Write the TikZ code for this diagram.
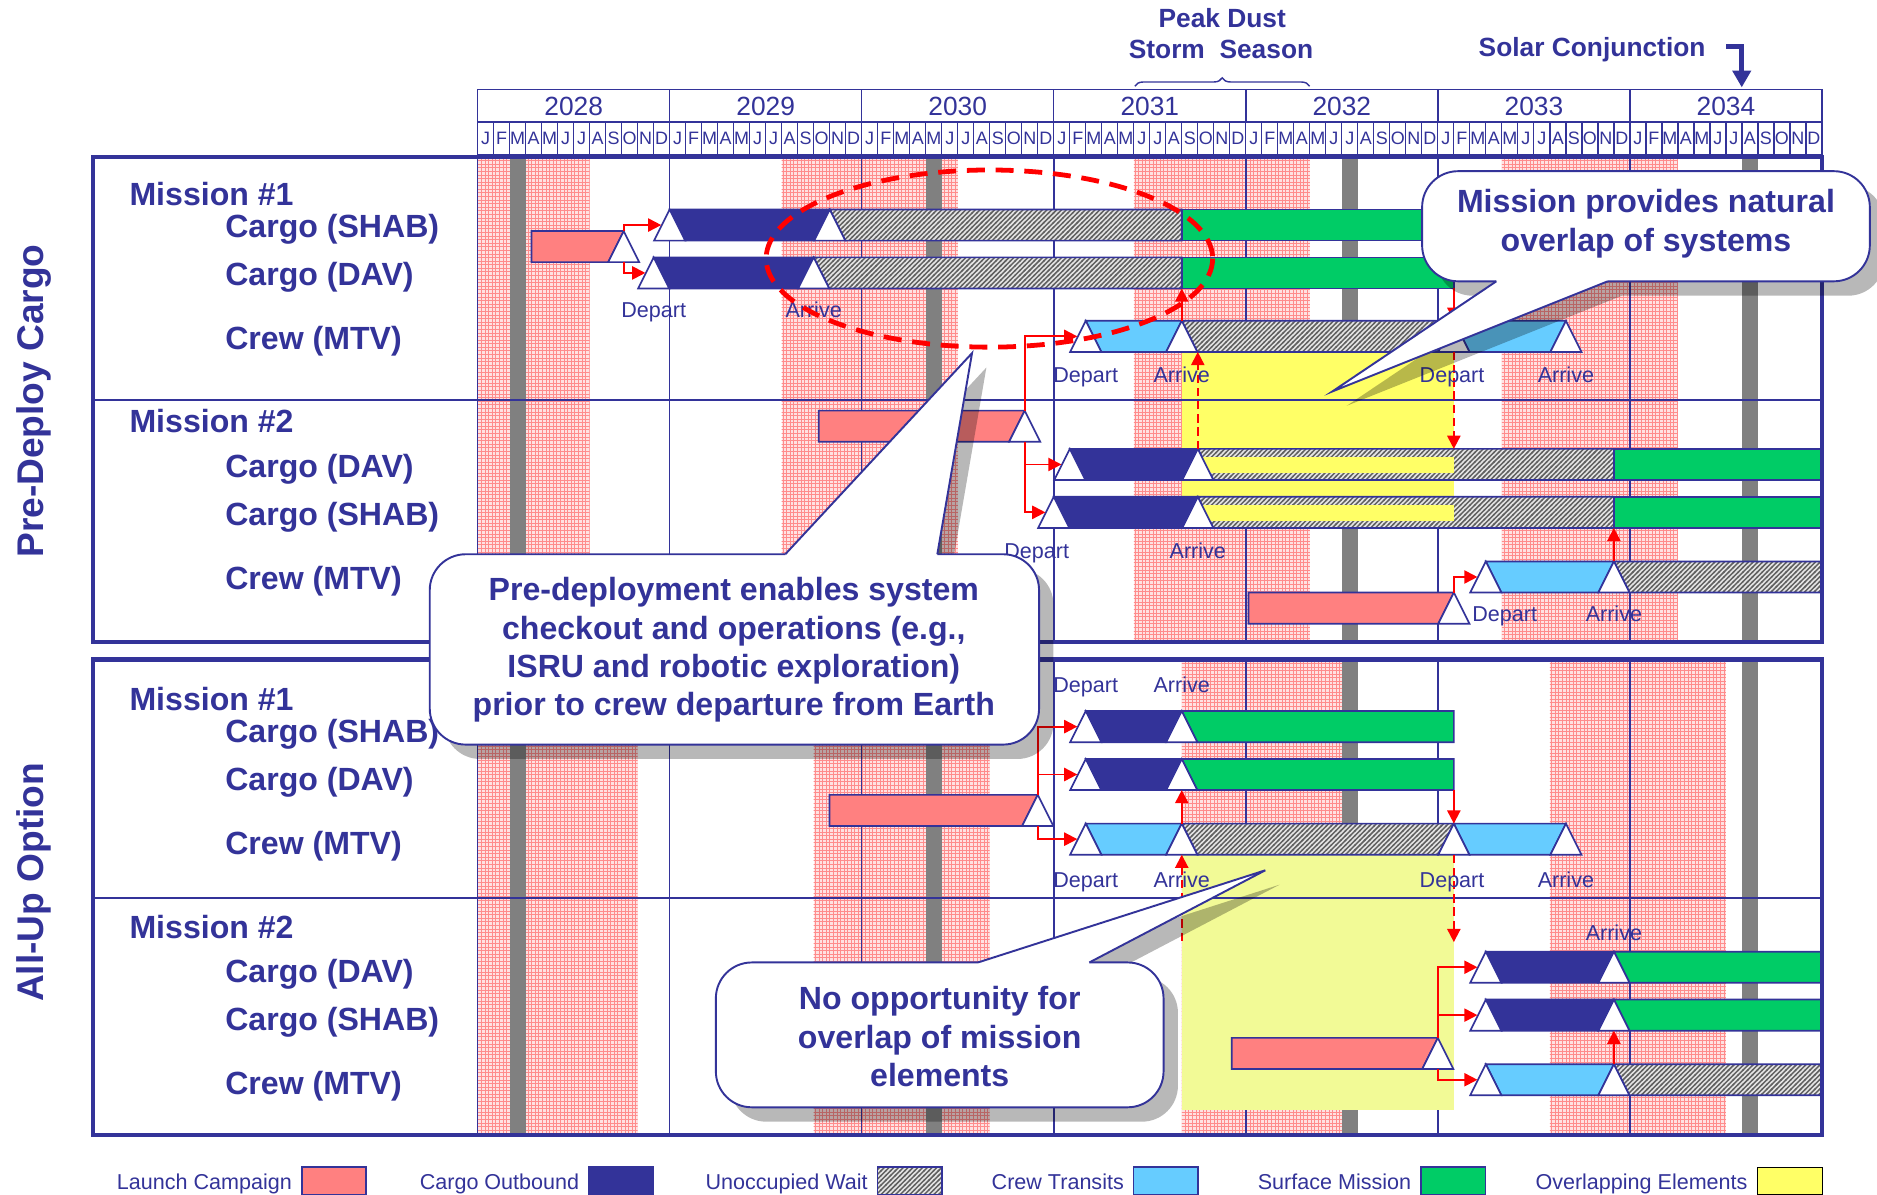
\documentclass[tikz,border=0pt]{standalone}
\usepackage{fontspec}
\setmainfont{Liberation Sans}
\usetikzlibrary{arrows.meta,patterns,decorations.pathreplacing}
\definecolor{planblue}{RGB}{51,51,153}
\definecolor{launchc}{RGB}{255,128,128}
\definecolor{crewc}{RGB}{102,204,255}
\definecolor{surfc}{RGB}{0,204,102}
\definecolor{overlapc}{RGB}{255,255,102}
\definecolor{overlapl}{RGB}{242,250,150}
\definecolor{dustc}{RGB}{255,226,226}
\definecolor{conjc}{RGB}{128,128,128}

% diagonal hatch for the waiting periods
\pgfdeclarepatternformonly{hatch}{\pgfqpoint{-1pt}{-1pt}}{\pgfqpoint{5pt}{5pt}}{\pgfqpoint{4pt}{4pt}}{%
  \pgfsetlinewidth{1.2pt}%
  \pgfpathmoveto{\pgfqpoint{-0.5pt}{-0.5pt}}%
  \pgfpathlineto{\pgfqpoint{4.5pt}{4.5pt}}%
  \pgfusepath{stroke}}

% bar piece: style, x from, x to, top y, left slant, right slant
\newcommand{\barseg}[6]{\filldraw[#1] (#2,#4) -- (#3,#4) -- ({#3-#6},{#4+26}) -- ({#2+#5},{#4+26}) -- cycle;}
% event triangle: name, apex x, top y
\newcommand{\bartri}[3]{%
  \filldraw[tribox] (#2,#3) -- ({#2+13},{#3+26}) -- ({#2-13},{#3+26}) -- cycle;
  \coordinate (#1) at (#2,#3);
  \coordinate (#1b) at (#2,{#3+26});
  \coordinate (#1l) at ({#2-7},{#3+13});}
% callout: box corners, pointer base x's, tip, edge y, inset
\newcommand{\callbox}[9]{%
  \fill[callshadow, shift={(12,12)}, rounded corners=30] (#1,#2) rectangle (#3,#4);
  \fill[callshadow, shift={(12,12)}] (#5,#8) -- #7 -- (#6,#8) -- cycle;
  \filldraw[fill=white, draw=planblue, line width=1.6, rounded corners=30] (#1,#2) rectangle (#3,#4);
  \fill[white] (#5,{#8+#9}) -- (#5,#8) -- #7 -- (#6,#8) -- (#6,{#8+#9}) -- cycle;
  \draw[planblue, line width=1.6] (#5,#8) -- #7 -- (#6,#8);}

\begin{document}
\begin{tikzpicture}[x=1pt, y=-1pt,
    tribox/.style={fill=white, draw=planblue, line width=1.4},
    launchbar/.style={fill=launchc, draw=planblue, line width=1.4},
    cargobar/.style={fill=planblue, draw=planblue, line width=1.4},
    crewbar/.style={fill=crewc, draw=planblue, line width=1.4},
    surfbar/.style={fill=surfc, draw=planblue, line width=1.4},
    waitbar/.style={preaction={fill=gray!20}, pattern=hatch, pattern color=gray!75!black, draw=planblue, line width=1.4},
    overlapbox/.style={fill=overlapc},
    dustzone/.style={fill=dustc, postaction={pattern=grid, pattern color=red!45}},
    gridline/.style={planblue, line width=1.2},
    frame/.style={planblue, line width=3.5},
    link/.style={red, line width=1.6, -{Triangle[length=11pt,width=11pt]}},
    dlink/.style={link, dash pattern=on 7pt off 4pt},
    callshadow/.style={fill=black, opacity=0.28},
    evtlabel/.style={planblue, font=\fontsize{18}{20}\selectfont, inner sep=0, text height=12.9pt, text depth=0pt},
    rowlabel/.style={planblue, font=\bfseries\fontsize{26.8}{30}\selectfont, anchor=west, inner sep=0, text height=19.2pt, text depth=0pt},
    sidelabel/.style={planblue, font=\bfseries\fontsize{31}{36}\selectfont, inner sep=0, text height=22.2pt, text depth=0pt, rotate=90},
    headlabel/.style={planblue, font=\bfseries\fontsize{22}{26}\selectfont, inner sep=0, text height=15.8pt, text depth=0pt},
    yearlabel/.style={planblue, font=\fontsize{22}{26}\selectfont, inner sep=0, text height=15.8pt, text depth=0pt},
    monlabel/.style={planblue, font=\fontsize{15}{17}\selectfont, inner sep=0, text height=10.7pt, text depth=0pt},
    legendlabel/.style={planblue, font=\fontsize{18}{20}\selectfont, anchor=east, inner sep=0, text height=12.9pt, text depth=0pt},
    calltext/.style={planblue, font=\bfseries\fontsize{26.8}{32}\selectfont, align=center}]
  \useasboundingbox (0,0) rectangle (1568,998);
  \fill[white] (0,0) rectangle (1568,998);

  % dust storm seasons
  \foreach \xa/\xb in {399/492.6, 653/800.1, 947.1/1094.2, 1254.6/1401.7}
    \fill[dustzone] (\xa,131) rectangle (\xb,536);
  \foreach \xa/\xb in {399/532.7, 679.7/826.8, 987.2/1120.9, 1294.7/1441.8}
    \fill[dustzone] (\xa,551) rectangle (\xb,948);
  % solar conjunctions
  \foreach \xa in {425.7, 773.3, 1120.9, 1455.2} {
    \fill[conjc] (\xa,131) rectangle ({\xa+13.4},536);
    \fill[conjc] (\xa,551) rectangle ({\xa+13.4},948);
  }
  % year lines
  \foreach \xa in {399, 559.4, 719.9, 880.3, 1040.7, 1201.1, 1361.6} {
    \draw[gridline] (\xa,131) -- (\xa,536);
    \draw[gridline] (\xa,551) -- (\xa,948);
  }
  % overlap windows
  \fill[overlapc] (987.2,294) rectangle (1214.5,415);
  \fill[overlapl] (987.2,714) rectangle (1214.5,927);
  % mission dividers
  \draw[gridline] (78,334) -- (1522,334);
  \draw[gridline] (78,750) -- (1522,750);

  % ---- Pre-deploy, mission 1
  \barseg{launchbar}{444}{521}{193}{0}{13}
  \bartri{uL1}{521}{193}
  \barseg{cargobar}{559.4}{693.1}{175}{13}{13}
  \barseg{waitbar}{693.1}{987.2}{175}{13}{0}
  \barseg{surfbar}{987.2}{1214.5}{175}{0}{0}
  \bartri{uS1d}{559.4}{175}
  \bartri{uS1a}{693.1}{175}
  \barseg{cargobar}{546.1}{679.7}{215}{13}{13}
  \barseg{waitbar}{679.7}{987.2}{215}{13}{0}
  \barseg{surfbar}{987.2}{1214.5}{215}{0}{0}
  \bartri{uD1d}{546.1}{215}
  \bartri{uD1a}{679.7}{215}
  \barseg{crewbar}{907}{987.2}{268}{13}{13}
  \barseg{waitbar}{987.2}{1214.5}{268}{13}{13}
  \barseg{crewbar}{1214.5}{1308.1}{268}{13}{13}
  \bartri{uC1d}{907}{268}
  \bartri{uC1a}{987.2}{268}
  \bartri{uC1r}{1214.5}{268}
  \bartri{uC1e}{1308.1}{268}
  % ---- Pre-deploy, mission 2
  \barseg{launchbar}{684}{856}{343}{0}{13}
  \bartri{uL2}{856}{343}
  \barseg{cargobar}{893.7}{1000.6}{375}{13}{13}
  \barseg{waitbar}{1000.6}{1348.2}{375}{13}{0}
  \fill[overlapc] (1000.6,382) rectangle (1214.5,395);
  \barseg{surfbar}{1348.2}{1522}{375}{0}{0}
  \bartri{uD2d}{893.7}{375}
  \bartri{uD2a}{1000.6}{375}
  \barseg{cargobar}{880.3}{1000.6}{415}{13}{13}
  \barseg{waitbar}{1000.6}{1348.2}{415}{13}{0}
  \fill[overlapc] (1000.6,422) rectangle (1214.5,435);
  \barseg{surfbar}{1348.2}{1522}{415}{0}{0}
  \bartri{uS2d}{880.3}{415}
  \bartri{uS2a}{1000.6}{415}
  \barseg{launchbar}{1043}{1214.5}{495}{0}{13}
  \bartri{uL3}{1214.5}{495}
  \barseg{crewbar}{1241.2}{1348.2}{469}{13}{13}
  \barseg{waitbar}{1348.2}{1522}{469}{13}{0}
  \bartri{uC2d}{1241.2}{469}
  \bartri{uC2a}{1348.2}{469}

  % ---- All-up, mission 1
  \barseg{launchbar}{693}{866.9}{664}{0}{13}
  \bartri{aL1}{866.9}{664}
  \barseg{cargobar}{907}{987.2}{594}{13}{13}
  \barseg{surfbar}{987.2}{1214.5}{594}{13}{0}
  \bartri{aS1d}{907}{594}
  \bartri{aS1a}{987.2}{594}
  \barseg{cargobar}{907}{987.2}{634}{13}{13}
  \barseg{surfbar}{987.2}{1214.5}{634}{13}{0}
  \bartri{aD1d}{907}{634}
  \bartri{aD1a}{987.2}{634}
  \barseg{crewbar}{907}{987.2}{688}{13}{13}
  \barseg{waitbar}{987.2}{1214.5}{688}{13}{13}
  \barseg{crewbar}{1214.5}{1308.1}{688}{13}{13}
  \bartri{aC1d}{907}{688}
  \bartri{aC1a}{987.2}{688}
  \bartri{aC1r}{1214.5}{688}
  \bartri{aC1e}{1308.1}{688}
  % ---- All-up, mission 2
  \barseg{launchbar}{1029}{1201.1}{867}{0}{13}
  \bartri{aL2}{1201.1}{867}
  \barseg{cargobar}{1241.2}{1348.2}{795}{13}{13}
  \barseg{surfbar}{1348.2}{1522}{795}{13}{0}
  \bartri{aD2d}{1241.2}{795}
  \bartri{aD2a}{1348.2}{795}
  \barseg{cargobar}{1241.2}{1348.2}{835}{13}{13}
  \barseg{surfbar}{1348.2}{1522}{835}{13}{0}
  \bartri{aS2d}{1241.2}{835}
  \bartri{aS2a}{1348.2}{835}
  \barseg{crewbar}{1241.2}{1348.2}{889}{13}{13}
  \barseg{waitbar}{1348.2}{1522}{889}{13}{0}
  \bartri{aC2d}{1241.2}{889}
  \bartri{aC2a}{1348.2}{889}

  % launch links
  \draw[link] (uL1) |- (uS1dl);
  \draw[link] (uL1b) |- (uD1dl);
  \draw[link] (uL2) |- (uC1dl);
  \draw[link] (uL2b) |- (uD2dl);
  \draw[link] (uL2b) |- (uS2dl);
  \draw[link] (uL3) |- (uC2dl);
  \draw[link] (aL1) |- (aS1dl);
  \draw[link] (aL1) |- (aD1dl);
  \draw[link] (aL1b) |- (aC1dl);
  \draw[link] (aL2) |- (aD2dl);
  \draw[link] (aL2) |- (aS2dl);
  \draw[link] (aL2b) |- (aC2dl);
  % arrival / departure links
  \draw[link] (uC1a) -- (uC1a |- uD1ab);
  \draw[link] (uC1r |- uD1ab) -- (uC1r);
  \draw[dlink] (uC1rb) -- (uC1r |- uD2d);
  \draw[dlink] (uD2a) -- (uD2a |- uC1ab);
  \draw[link] (uC2a) -- (uC2a |- uS2ab);
  \draw[link] (aC1a) -- (aC1a |- aD1ab);
  \draw[link] (aC1r |- aD1ab) -- (aC1r);
  \coordinate (aY1) at (987.2,786);
  \coordinate (aY2) at (1214.5,787);
  \draw[dlink] (aY1) -- (aC1ab);
  \draw[dlink] (aC1rb) -- (aY2);
  \draw[link] (aC2a) -- (aC2a |- aS2ab);

  % depart / arrive labels
  \node[evtlabel] (t1) at (546.1,259) {Depart};
  \node[evtlabel] (t2) at (679.7,259) {Arrive};
  \node[evtlabel] (t3) at (907,313) {Depart};
  \node[evtlabel] (t4) at (987.2,313) {Arrive};
  \node[evtlabel] (t5) at (1213,313) {Depart};
  \node[evtlabel] (t6) at (1308.1,313) {Arrive};
  \node[evtlabel] (t7) at (866,460) {Depart};
  \node[evtlabel] (t8) at (1000.6,460) {Arrive};
  \node[evtlabel] (t9) at (1257,513) {Depart};
  \node[evtlabel] (t10) at (1348.2,513) {Arrive};
  \node[evtlabel] (t11) at (907,572) {Depart};
  \node[evtlabel] (t12) at (987.2,572) {Arrive};
  \node[evtlabel] (t13) at (907,735) {Depart};
  \node[evtlabel] (t14) at (987.2,735) {Arrive};
  \node[evtlabel] (t15) at (1213,735) {Depart};
  \node[evtlabel] (t16) at (1308.1,735) {Arrive};
  \node[evtlabel] (t17) at (1348.2,779) {Arrive};

  % row labels
  \node[rowlabel] (um1) at (108,162) {Mission \#1};
  \node[rowlabel] (um1s) at (188,189) {Cargo (SHAB)};
  \node[rowlabel] (um1d) at (188,229) {Cargo (DAV)};
  \node[rowlabel] (um1c) at (188,282) {Crew (MTV)};
  \node[rowlabel] (um2) at (108,352) {Mission \#2};
  \node[rowlabel] (um2d) at (188,389) {Cargo (DAV)};
  \node[rowlabel] (um2s) at (188,429) {Cargo (SHAB)};
  \node[rowlabel] (um2c) at (188,483) {Crew (MTV)};
  \node[rowlabel] (am1) at (108,584) {Mission \#1};
  \node[rowlabel] (am1s) at (188,611) {Cargo (SHAB)};
  \node[rowlabel] (am1d) at (188,651) {Cargo (DAV)};
  \node[rowlabel] (am1c) at (188,704) {Crew (MTV)};
  \node[rowlabel] (am2) at (108,774) {Mission \#2};
  \node[rowlabel] (am2d) at (188,811) {Cargo (DAV)};
  \node[rowlabel] (am2s) at (188,851) {Cargo (SHAB)};
  \node[rowlabel] (am2c) at (188,905) {Crew (MTV)};
  \node[sidelabel] (predeploy) at (25,335) {Pre-Deploy Cargo};
  \node[sidelabel] (allup) at (25,737) {All-Up Option};

  % overlap ring
  \draw[red, line width=4, dash pattern=on 15pt off 9pt] (826.5,216) ellipse [x radius=186.5, y radius=74];

  % panel frames
  \draw[frame] (78,131) rectangle (1522,536);
  \draw[frame] (78,551) rectangle (1522,948);

  % timeline header
  \foreach \yr [count=\i from 0] in {2028,...,2034} {
    \draw[gridline] ({399+160.43*\i},75) rectangle ({399+160.43*(\i+1)},102);
    \node[yearlabel] (y\yr) at ({399+160.43*(\i+0.5)},89) {\yr};
    \foreach \mo [count=\k from 0] in {J,F,M,A,M,J,J,A,S,O,N,D} {
      \draw[planblue, line width=1] ({399+160.43*\i+13.369*\k},102) rectangle +(13.369,27);
      \node[monlabel] (m\yr-\k) at ({399+160.43*\i+13.369*(\k+0.5)},115.5) {\mo};
    }
  }
  \node[headlabel] (peak) at (1021,15) {Peak Dust};
  \node[headlabel] (storm) at (1020,41) {Storm\ \ Season};
  \draw[planblue, line width=1.2, decorate, decoration={brace, amplitude=7pt}] (948,72) -- (1094,72);
  \node[headlabel] (solar) at (1330,39) {Solar Conjunction};
  \coordinate (sc1) at (1442,39);
  \coordinate (sc2) at (1455,73);
  \draw[planblue, line width=4.5, -{Triangle[length=14pt,width=15pt]}] (sc1) -| (sc2);

  % callouts
  \callbox{1188}{143}{1562}{235}{1250}{1343}{(1113,327)}{235}{-3}
  \node[calltext] (noteA) at (1375,187) {Mission provides natural\\overlap of systems};
  \callbox{359}{463}{868}{622}{656}{783}{(812,295)}{463}{3}
  \node[calltext] (noteB) at (613,543) {Pre-deployment enables system\\checkout and operations (e.g.,\\ISRU and robotic exploration)\\prior to crew departure from Earth};
  \callbox{598}{804}{972}{925}{817}{910}{(1057,727)}{804}{3}
  \node[calltext] (noteC) at (785,866) {No opportunity for\\overlap of mission\\elements};

  % legend
  \foreach \txt/\xe/\sty [count=\n] in {Launch Campaign/244/launchbar, Cargo Outbound/484/cargobar, Unoccupied Wait/725/waitbar, Crew Transits/939/crewbar, Surface Mission/1179/surfbar, Overlapping Elements/1460/overlapbox} {
    \node[legendlabel] (lg\n) at (\xe,987) {\txt};
    \filldraw[\sty] ({\xe+8},975) rectangle ({\xe+62},998);
  }
\end{tikzpicture}
\end{document}
